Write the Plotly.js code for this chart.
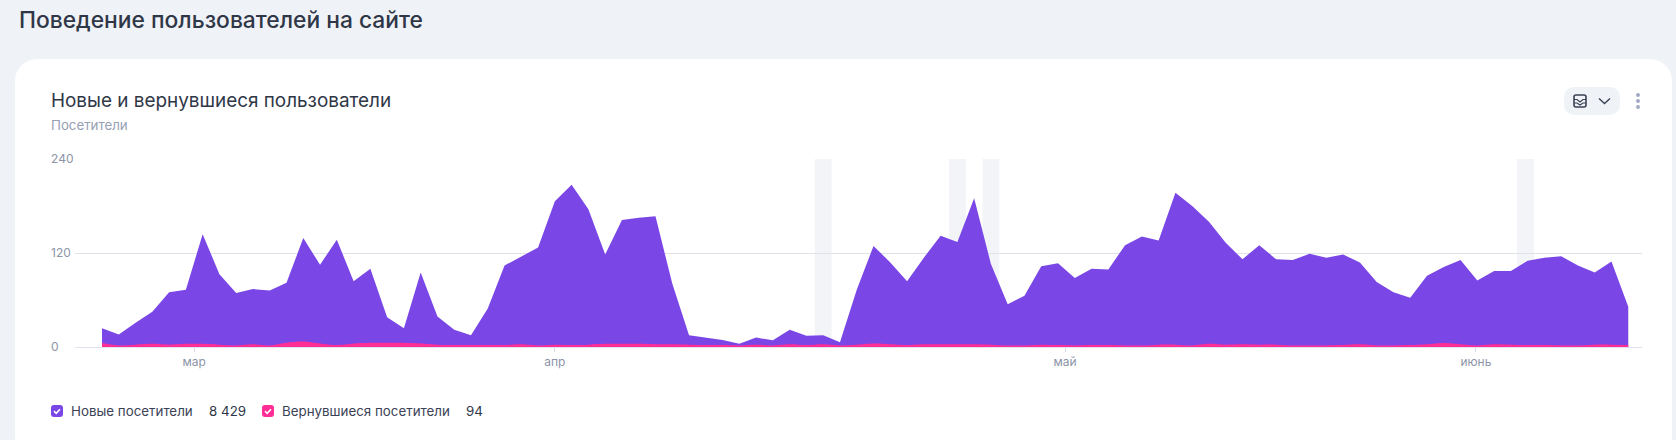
<!DOCTYPE html>
<html><head><meta charset="utf-8">
<script src="https://cdn.plot.ly/plotly-3.0.1.min.js"></script>
<style>
html,body{margin:0;padding:0;width:1676px;height:440px;overflow:hidden;background:#eff2f7;font-family:Inter,sans-serif}
#card{position:absolute;left:15px;top:59px;width:1657px;height:400px;background:#fff;border-radius:22px}
#plot{position:absolute;left:0;top:0;width:1676px;height:440px}
.cb{position:absolute;top:405px;width:12px;height:12px;border-radius:3px;z-index:3}
.cb svg{display:block}
#btn{position:absolute;left:1564px;top:87px;width:56px;height:28px;border-radius:10px;background:#eff2f7;z-index:3}
.dot{position:absolute;left:1636px;width:4px;height:4px;border-radius:50%;background:#a3abc4;z-index:3}
</style></head><body>
<div id="card"></div>
<div id="plot"></div>
<div id="btn"><svg width="56" height="28" viewBox="0 0 56 28">
<rect x="10" y="8" width="12" height="12" rx="2" fill="none" stroke="#3b4256" stroke-width="1.6"/>
<path d="M10 12.5 L13 12.5 L16 15 L19 12.5 L22 12.5 M10 16 L13 16 L16 18 L19 16 L22 16" fill="none" stroke="#3b4256" stroke-width="1.2"/>
<path d="M35 11.5 L40.5 16.5 L46 11.5" fill="none" stroke="#3b4256" stroke-width="1.4"/>
</svg></div>
<div class="dot" style="top:93px"></div><div class="dot" style="top:99px"></div><div class="dot" style="top:105px"></div>
<div class="cb" style="left:51px;background:#7a47e6"><svg width="12" height="12"><path d="M3 6.2 L5.2 8.3 L9 4.2" fill="none" stroke="#fff" stroke-width="1.6"/></svg></div>
<div class="cb" style="left:262px;background:#ff2d96"><svg width="12" height="12"><path d="M3 6.2 L5.2 8.3 L9 4.2" fill="none" stroke="#fff" stroke-width="1.6"/></svg></div>
<script>
var dates = ["2023-03-19","2023-03-20","2023-03-21","2023-03-22","2023-03-23","2023-03-24","2023-03-25","2023-03-26","2023-03-27","2023-03-28","2023-03-29","2023-03-30","2023-03-31",
"2023-04-01","2023-04-02","2023-04-03","2023-04-04","2023-04-05","2023-04-06","2023-04-07","2023-04-08","2023-04-09","2023-04-10","2023-04-11","2023-04-12","2023-04-13","2023-04-14","2023-04-15","2023-04-16","2023-04-17","2023-04-18","2023-04-19","2023-04-20","2023-04-21","2023-04-22","2023-04-23","2023-04-24","2023-04-25","2023-04-26","2023-04-27","2023-04-28","2023-04-29","2023-04-30",
"2023-05-01","2023-05-02","2023-05-03","2023-05-04","2023-05-05","2023-05-06","2023-05-07","2023-05-08","2023-05-09","2023-05-10","2023-05-11","2023-05-12","2023-05-13","2023-05-14","2023-05-15","2023-05-16","2023-05-17","2023-05-18","2023-05-19","2023-05-20","2023-05-21","2023-05-22","2023-05-23","2023-05-24","2023-05-25","2023-05-26","2023-05-27","2023-05-28","2023-05-29","2023-05-30","2023-05-31",
"2023-06-01","2023-06-02","2023-06-03","2023-06-04","2023-06-05","2023-06-06","2023-06-07","2023-06-08","2023-06-09","2023-06-10","2023-06-11","2023-06-12","2023-06-13","2023-06-14","2023-06-15","2023-06-16","2023-06-17","2023-06-18"];
var newVisitors = [24,16,31,45,70,73,144,93,69,74,72,82,139,105,137,84,100,38,24,95,39,22,15,49,104,116,127,186,207,176,118,162,165,167,81,15,12,9,4,12,8.5,22,14.5,15,6,73,129,108,84,114,142,134,190,106,54.5,65.5,103,107,88,100,99,130,141,136,197,180,160,133,112,130,112,111,119,114,118,108,83,70,63,91,102,111,85,97,97,110,114,116,104,95,109,51.5];
var returningVisitors = [5,2,3,4,3,4,4,3,2,3.5,2,5.5,7,4.5,2.5,4.5,5.5,5.5,5.5,4.5,3,2.5,2.5,2.5,2.5,3.5,2,3,2.5,3,4,4,4,3.5,3.5,3,2.5,2.5,2,3,2,3.5,2.5,3.5,2,3,4.5,3.5,2.5,3.5,3.5,3.5,3.5,3,2,2,3,2.5,2,2.5,2.5,2,2,3,3,2,4,3,3.5,3,3,2,2,2,2.5,3.5,2,2,2.5,3.5,5,3.5,2,3.5,3,2.5,2.5,2,2,3,3,2.5];
var monthTickDates = ["2023-03-24 12:00","2023-04-15 00:00","2023-05-15 10:00","2023-06-08 22:00"];
var monthLabels = ["мар","апр","май","июнь"];
var yTicks = [0,120,240];
var bandStarts = ["2023-04-30 12:00","2023-05-08 12:00","2023-05-10 12:00","2023-06-11 09:00"];
var bandEnds = ["2023-05-01 12:00","2023-05-09 12:00","2023-05-11 12:00","2023-06-12 09:00"];
var legendNames = ["Новые посетители","Вернувшиеся посетители"];
var legendTotals = ["8 429","94"];

var L=75,R=1642,T=159,B=347,FONT="Inter, sans-serif";
function px(x){return (x-L)/(R-L);}
function py(y){return (B-y)/(B-T);}
function txt(text,x,y,size,color,weight){
  return {text:text,xref:"paper",yref:"paper",x:px(x),y:py(y),xanchor:"left",yanchor:"middle",showarrow:false,
    align:"left",font:{family:FONT,size:size,color:color,weight:weight||400}};
}
var ann=[
  txt("Поведение пользователей на сайте",17,19,22.8,"#2f3747",500),
  txt("Новые и вернувшиеся пользователи",49,101,18.9,"#2f3747"),
  txt("Посетители",49,125,13.3,"#98a0b5"),
  txt(legendNames[0],69,411,13.35,"#3b4256"),
  txt(legendTotals[0],207,411,13.35,"#2f3747",400),
  txt(legendNames[1],280,411,13.35,"#3b4256"),
  txt(legendTotals[1],464,411,13.35,"#2f3747",400)
];
yTicks.forEach(function(v){
  ann.push({text:String(v),xref:"paper",yref:"y",x:px(49),y:v,yshift:1,xanchor:"left",yanchor:"middle",showarrow:false,
    font:{family:FONT,size:12,color:"#8d95a8"}});
});
var shapes=bandStarts.map(function(s,i){
  return {type:"rect",layer:"below",xref:"x",yref:"y",x0:s,x1:bandEnds[i],y0:0,y1:240,fillcolor:"#f3f4f8",line:{width:0}};
});
Plotly.newPlot("plot",[
  {type:"scatter",mode:"lines",name:legendNames[0],x:dates,y:newVisitors,fill:"tozeroy",fillcolor:"#7a47e6",line:{width:0,color:"#7a47e6"}},
  {type:"scatter",mode:"lines",name:legendNames[1],x:dates,y:returningVisitors,fill:"tozeroy",fillcolor:"#ff2d96",line:{width:0,color:"#ff2d96",shape:"spline",smoothing:0.8}}
],{
  width:1676,height:440,margin:{l:L,r:1676-R,t:T,b:440-B,pad:0},
  paper_bgcolor:"rgba(0,0,0,0)",plot_bgcolor:"rgba(0,0,0,0)",showlegend:false,
  xaxis:{type:"date",range:["2023-03-17 09:20","2023-06-18 19:40"],tickmode:"array",tickvals:monthTickDates,ticktext:monthLabels,
    ticks:"outside",ticklen:4,tickcolor:"#d9dce6",tickwidth:1,showgrid:false,zeroline:false,showline:false,
    tickfont:{family:FONT,size:12,color:"#8d95a8"}},
  yaxis:{range:[0,240],tickmode:"array",tickvals:yTicks,showticklabels:false,showgrid:true,gridcolor:"#e0e2ea",gridwidth:1,zeroline:true,zerolinecolor:"#dfe1ec",zerolinewidth:1,ticks:""},
  annotations:ann,shapes:shapes
},{displayModeBar:false,staticPlot:true});
</script>
</body></html>
